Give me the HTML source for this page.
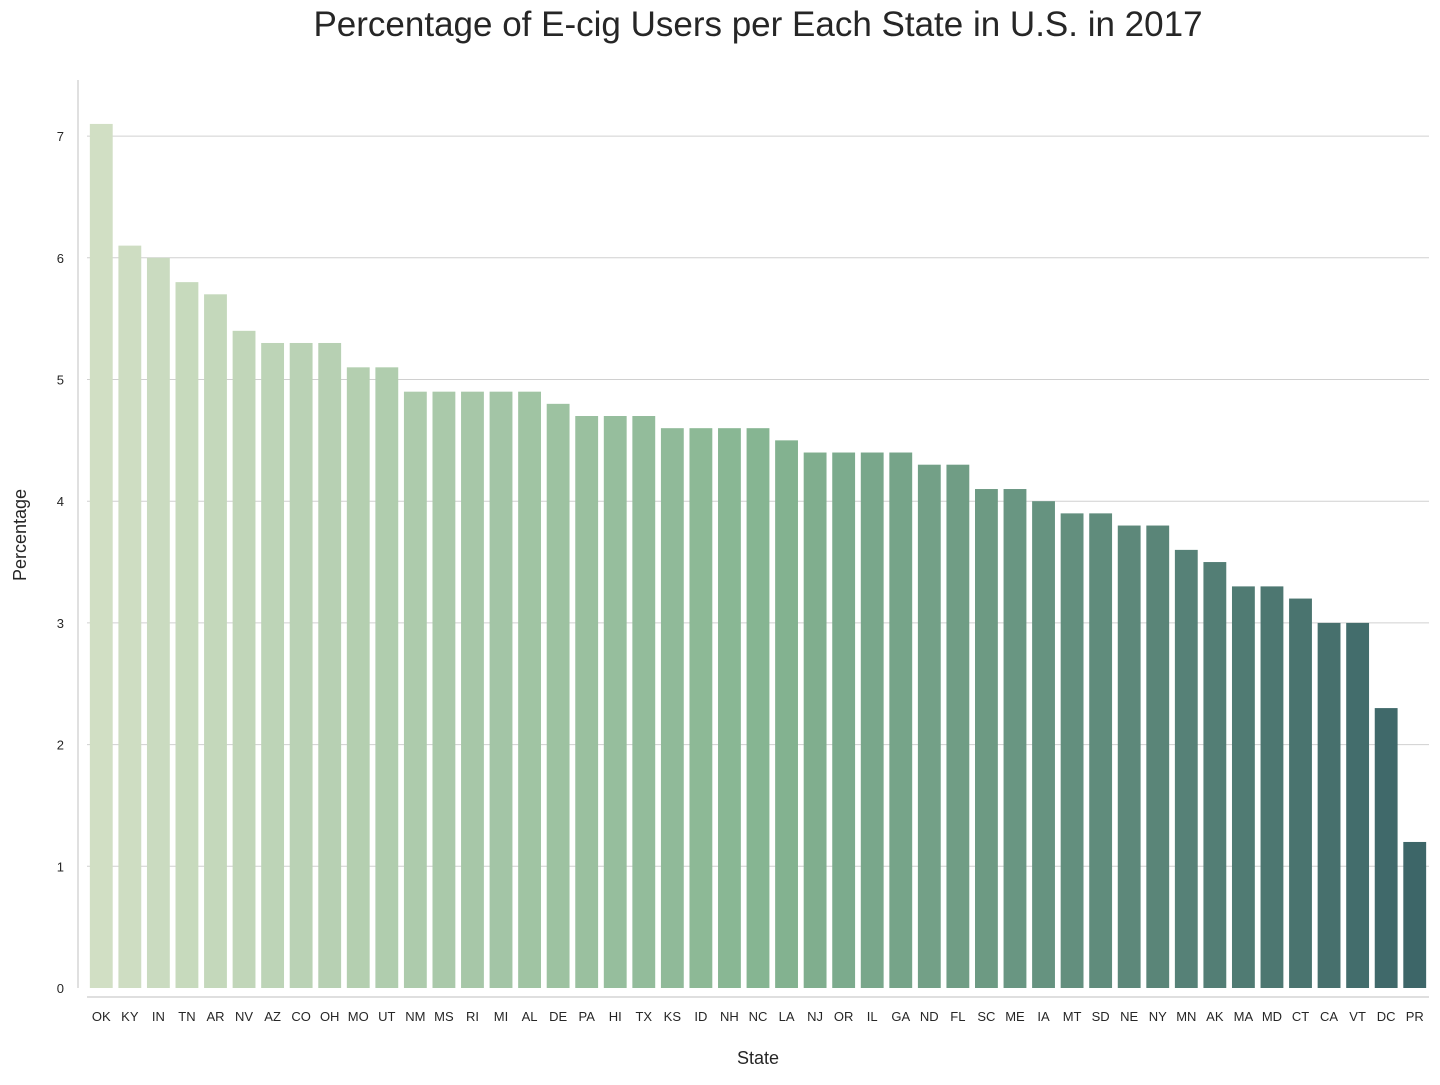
<!DOCTYPE html>
<html><head><meta charset="utf-8"><style>
body{margin:0;background:#fff;font-family:"Liberation Sans",sans-serif;}
svg text{font-family:"Liberation Sans",sans-serif;fill:#262626;}
</style></head><body>
<svg id="chart" width="1440" height="1080">
<text x="758" y="36" text-anchor="middle" font-size="35">Percentage of E-cig Users per Each State in U.S. in 2017</text>
<g id="grid"></g><g id="bars"></g><g id="xt"></g><g id="yt"></g>
<line x1="78" y1="80" x2="78" y2="988" stroke="#ccc" stroke-width="1.2"/>
<line x1="87" y1="997" x2="1429" y2="997" stroke="#ccc" stroke-width="1.2"/>
<text x="758" y="1064" text-anchor="middle" font-size="18">State</text>
<text x="26" y="535" text-anchor="middle" font-size="18" transform="rotate(-90 26 535)">Percentage</text>
</svg>
<script>
const states=["OK","KY","IN","TN","AR","NV","AZ","CO","OH","MO","UT","NM","MS","RI","MI","AL","DE","PA","HI","TX","KS","ID","NH","NC","LA","NJ","OR","IL","GA","ND","FL","SC","ME","IA","MT","SD","NE","NY","MN","AK","MA","MD","CT","CA","VT","DC","PR"];
const values=[7.1,6.1,6.0,5.8,5.7,5.4,5.3,5.3,5.3,5.1,5.1,4.9,4.9,4.9,4.9,4.9,4.8,4.7,4.7,4.7,4.6,4.6,4.6,4.6,4.5,4.4,4.4,4.4,4.4,4.3,4.3,4.1,4.1,4.0,3.9,3.9,3.8,3.8,3.6,3.5,3.3,3.3,3.2,3.0,3.0,2.3,1.2];
const yTicks=[0,1,2,3,4,5,6,7];
const NS="http://www.w3.org/2000/svg";
const y=v=>988-v*121.7;
const step=(1429-87)/states.length;
const x=i=>87+i*step;
function mk(t,a,p){const e=document.createElementNS(NS,t);for(const k in a)e.setAttribute(k,a[k]);document.getElementById(p).appendChild(e);return e;}
const stops=[[209,223,196],[134,181,146],[61,102,104]];
function col(t){const s=t<0.5?0:1,u=(t-s*0.5)*2,a=stops[s],b=stops[s+1];return `rgb(${a.map((c,i)=>Math.round(c+(b[i]-c)*u)).join(",")})`;}
yTicks.forEach(v=>{
  if(v>0){const g=mk("line",{x1:87,x2:1429,y1:y(v),y2:y(v),stroke:"#d0d0d0","stroke-width":1},"grid");
  
  }
  const t=mk("text",{x:64,y:y(v)+5,"text-anchor":"end","font-size":13},"yt");t.textContent=v;
  
  
});
states.forEach((s,i)=>{
  const r=mk("rect",{x:x(i)+step*0.1,width:step*0.8,y:y(values[i]),height:988-y(values[i]),fill:col(i/(states.length-1))},"bars");
  
  
  const t=mk("text",{x:x(i)+step/2,y:1021,"text-anchor":"middle","font-size":13},"xt");t.textContent=s;
  
  
});
</script>
</body></html>
